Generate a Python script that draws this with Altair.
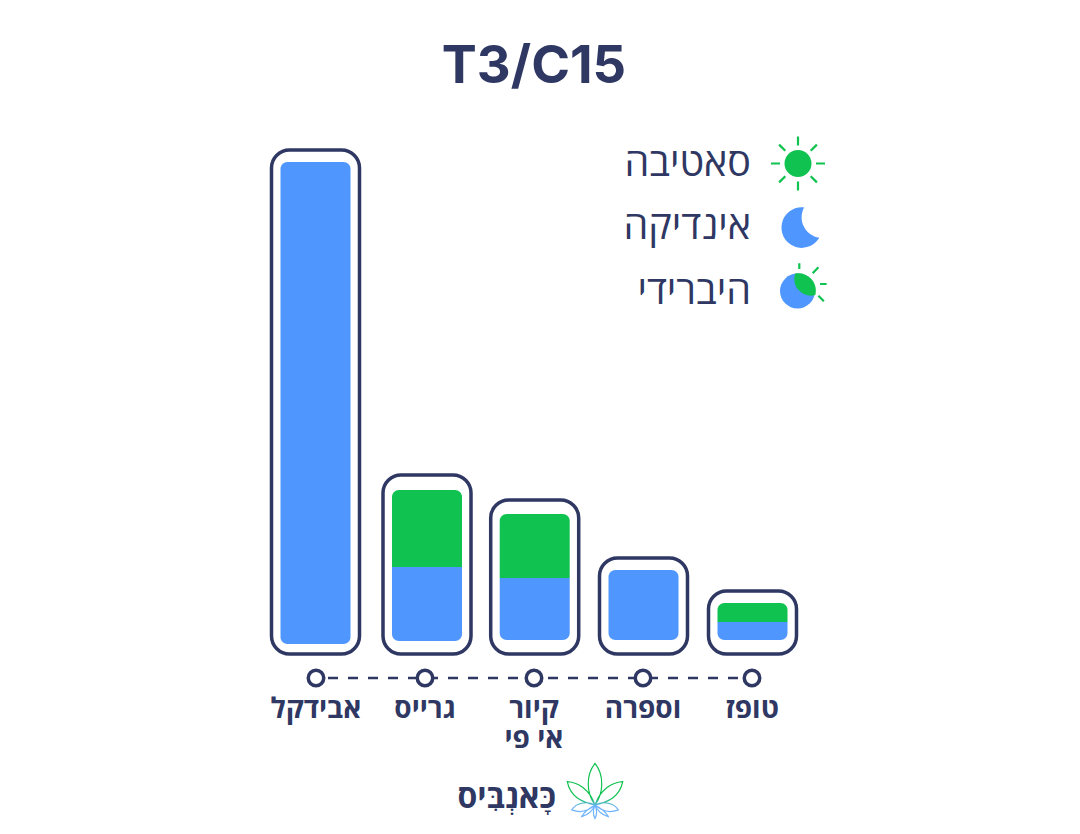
import altair as alt
import pandas as pd

INK = "#2f3763"
BLUE = "#4f97ff"
GREEN = "#10c24f"
HEB = "Open Sans"

cats = ["אבידקל", "גרייס", "קיור\nאי פי", "וספרה", "טופז"]
outer_top = [504, 179, 154, 96, 63]
blue_bottom = [10, 13, 14, 14, 14]
blue_top = [492, 87, 76, 84, 32]
green_top = [None, 164, 140, None, 51]
dot_level = [-24, -24, -24, -24, -24]

legend_labels = ["סאטיבה", "אינדיקה", "היברידי"]
brand = "כָּאנְבִּיס"

df = pd.DataFrame({"cat": cats, "outer": outer_top, "zero": [0] * 5, "b0": blue_bottom,
                   "b1": blue_top, "g1": green_top, "dot": dot_level})

OX, OY = 261.5, 140
nudge = [-0.5, 2, 0.7, 0.5, 0.5]

x = alt.X("cat:N", sort=cats, scale=alt.Scale(domain=cats, paddingInner=0, paddingOuter=0),
          axis=alt.Axis(title=None, domain=False, ticks=False, labelAngle=0, labelPadding=41,
                        labelFont=HEB, labelFontSize=28, labelFontWeight=700, labelColor=INK,
                        labelLineHeight=30, labelExpr="split(datum.label, '\\n')", grid=False))
yq = lambda f: alt.Y(f + ":Q", scale=alt.Scale(domain=[0, 514]), axis=None)

bars = []
for i in range(len(cats)):
    row = df.iloc[[i]]
    off = nudge[i]
    bars.append(alt.Chart(row).mark_bar(width=88, fill="white", stroke=INK, strokeWidth=3.5, cornerRadius=18, xOffset=off).encode(
        x=x, y=yq("zero"), y2="outer:Q"))
    if pd.isna(green_top[i]):
        bars.append(alt.Chart(row).mark_bar(width=70, color=BLUE, cornerRadius=7, xOffset=off).encode(
            x=x, y=yq("b0"), y2="b1:Q"))
    else:
        bars.append(alt.Chart(row).mark_bar(width=70, color=BLUE, cornerRadiusBottomLeft=7, cornerRadiusBottomRight=7, xOffset=off).encode(
            x=x, y=yq("b0"), y2="b1:Q"))
        bars.append(alt.Chart(row).mark_bar(width=70, color=GREEN, cornerRadiusTopLeft=7, cornerRadiusTopRight=7, xOffset=off).encode(
            x=x, y=yq("b1"), y2="g1:Q"))

line = alt.Chart(df).mark_line(color=INK, strokeWidth=2.5, strokeDash=[10, 10], strokeDashOffset=8).encode(
    x=x, y=yq("dot"))
dots = alt.Chart(df).mark_point(shape="circle", size=240, fill="white", stroke=INK, strokeWidth=3.5, opacity=1, filled=False).encode(
    x=x, y=yq("dot"))


def px(a, b):
    return dict(x=alt.value(a - OX), y=alt.value(b - OY))


leg = []
for lab, by in zip(legend_labels, [176, 239, 304]):
    leg.append(alt.Chart(pd.DataFrame({"t": [lab]})).mark_text(
        font=HEB, fontSize=39.5, fontWeight=400, color=INK, align="right", baseline="alphabetic"
    ).encode(text="t:N", **px(751, by)))

one = pd.DataFrame({"a": [0]})
RAYS = "M0,-1L0,-.667M0,1L0,.667M-1,0L-.667,0M1,0L.667,0M-.7,-.7L-.47,-.47M.7,-.7L.47,-.47M-.7,.7L-.47,.47M.7,.7L.47,.47"
MOON = "M0.2,-0.98A1,1,0,1,0,0.95,0.52A1.03,1.03,0,0,1,0.2,-0.98Z"
H_GREEN = "M-.13,-1A1,1,0,0,1,1.02,.23A.95,.95,0,0,1,-.13,-1Z"
H_RAYS = "M0,-.76L0,-.55M.49,-.39L.7,-.61M.76,0L1,0M.7,.43L.9,.63"
LEAF = ("M0,-.99C-.35,-.55,-.3,.1,0,.51C.3,.1,.35,-.55,0,-.99Z"
        "M-1,-.33C-.6,-.3,-.2,-.05,0,.51C-.5,.4,-.9,.2,-1,-.33Z"
        "M1,-.33C.6,-.3,.2,-.05,0,.51C.5,.4,.9,.2,1,-.33Z"
        "M0,.51C-.3,.35,-.7,.45,-.84,.69C-.55,.8,-.25,.75,0,.51Z"
        "M0,.51C.3,.35,.7,.45,.84,.69C.55,.8,.25,.75,0,.51Z"
        "M0,.51C-.2,.62,-.4,.75,-.48,.93C-.3,.88,-.1,.75,0,.51Z"
        "M0,.51C.2,.62,.4,.75,.48,.93C.3,.88,.1,.75,0,.51Z"
        "M0,.51C-.08,.7,-.08,.85,0,1C.08,.85,.08,.7,0,.51Z")


def icon(shape, r, cx, cy, **kw):
    return alt.Chart(one).mark_point(shape=shape, size=(2 * r) ** 2, opacity=1, **kw).encode(**px(cx, cy))


icons = [
    icon("circle", 13.5, 798, 163.5, filled=True, color=GREEN),
    icon(RAYS, 27, 798, 163.5, filled=False, stroke=GREEN, strokeWidth=2.2),
    icon(MOON, 20.3, 800, 227.3, filled=True, color=BLUE),
    icon("circle", 17.5, 797.5, 291, filled=True, color=BLUE),
    icon(H_GREEN, 17.5, 797.5, 291, filled=True, color=GREEN),
    icon(H_RAYS, 27.3, 799.3, 284, filled=False, stroke=GREEN, strokeWidth=2.2),
]

grad = alt.LinearGradient(gradient="linear", x1=0, y1=0, x2=0, y2=1, stops=[
    alt.GradientStop(color=GREEN, offset=0), alt.GradientStop(color=GREEN, offset=0.62),
    alt.GradientStop(color="#6fb4ff", offset=0.78), alt.GradientStop(color="#6fb4ff", offset=1)])
logo_leaf = icon(LEAF, 27.7, 595, 790.8, filled=False, stroke=grad, strokeWidth=1.2)
logo_text = alt.Chart(pd.DataFrame({"t": [brand]})).mark_text(
    font=HEB, fontSize=32, fontWeight=700, color=INK, align="right", baseline="alphabetic"
).encode(text="t:N", **px(556, 808))

chart = alt.layer(*bars, line, dots, *leg, *icons, logo_leaf, logo_text).properties(
    width=545, height=514, background="white",
    padding={"left": 253.5, "top": 32, "right": 0, "bottom": 0},
    title=alt.TitleParams("T3/C15", font="Inter", fontSize=52.5, fontWeight=700, color=INK, anchor="middle", offset=38),
).configure_view(stroke=None)

chart.save("out.html", embed_options={"renderer": "svg", "actions": False})
